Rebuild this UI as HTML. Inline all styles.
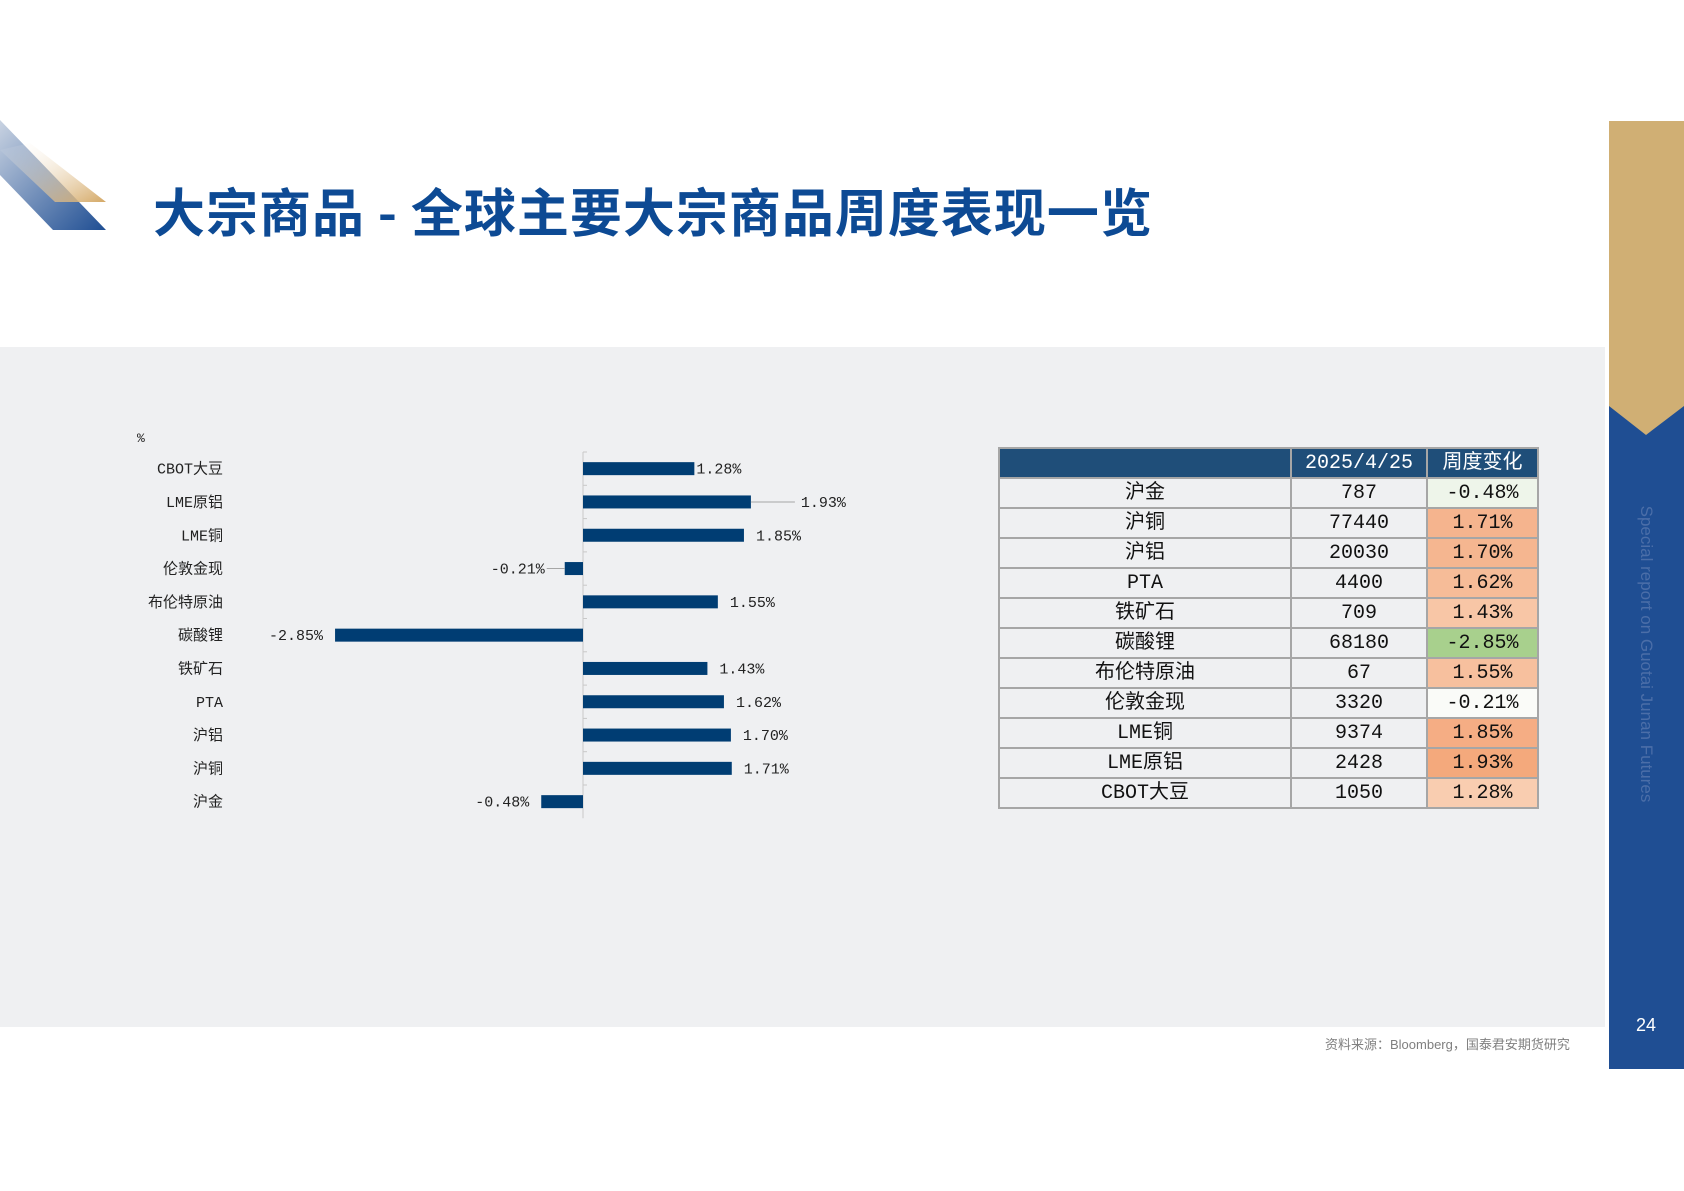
<!DOCTYPE html>
<html><head><meta charset="utf-8"><style>
body{margin:0;width:1684px;height:1191px;position:relative;background:#fff;overflow:hidden;font-family:"Liberation Sans","Noto Sans CJK SC",sans-serif}
.abs{position:absolute}
table{border-collapse:collapse;position:absolute;left:998px;top:447px;font-family:"Liberation Mono","Noto Sans CJK SC",sans-serif;font-size:20px;table-layout:fixed}
tr{height:30px}
td,th{border:2px solid #a6a6a6;height:26px;max-height:26px;padding:0;padding-top:2px;box-sizing:border-box;text-align:center;line-height:26px;overflow:hidden;white-space:nowrap}
td{color:#111}
th{background:#1f4e79;color:#fff;font-weight:normal}
</style></head><body>
<svg class="abs" style="left:0;top:110px" width="120" height="130">
<defs><linearGradient id="gb" x1="0" y1="0" x2="1" y2="1"><stop offset="0" stop-color="#c9d3e2"/><stop offset="1" stop-color="#1f4e93"/></linearGradient>
<linearGradient id="gg" x1="0" y1="0" x2="1" y2="1"><stop offset="0" stop-color="#fff" stop-opacity="0"/><stop offset="1" stop-color="#d4a865"/></linearGradient></defs>
<polygon points="0,10 106,120 53,120 0,65" fill="url(#gb)"/>
<polygon points="30,33 106,92 55,92 0,40" fill="url(#gg)"/>
</svg>
<div class="abs" style="left:153px;top:180px;font-size:52px;letter-spacing:1px;font-weight:bold;color:#0d4a94;font-family:'Noto Sans CJK SC',sans-serif;line-height:60px">大宗商品 - 全球主要大宗商品周度表现一览</div>
<div class="abs" style="left:0;top:347px;width:1605px;height:680px;background:#eff0f2"></div>
<div class="abs" style="left:1609px;top:121px;width:75px;height:948px;background:#1f4e93"></div>
<svg class="abs" style="left:1609px;top:121px" width="75" height="320"><polygon points="0,0 75,0 75,285 37,314 0,285" fill="#d0af74"/></svg>
<div class="abs" style="left:1646px;top:654px;transform:translate(-50%,-50%) rotate(90deg);white-space:nowrap;font-size:17px;color:#4b6ea8">Special report on Guotai Junan Futures</div>
<div class="abs" style="left:1636px;top:1015px;font-size:18px;color:#fff">24</div>
<div class="abs" style="left:1325px;top:1034px;font-size:13px;color:#7f7f7f">资料来源：Bloomberg，国泰君安期货研究</div>

<svg id="chart" class="abs" style="left:0;top:0" width="900" height="900"></svg>

<table>
<tr><th style="width:292px"></th><th style="width:136px">2025/4/25</th><th style="width:111px">周度变化</th></tr>
<tr><td>沪金</td><td>787</td><td style="background:#eef5ea">-0.48%</td></tr>
<tr><td>沪铜</td><td>77440</td><td style="background:#f5b48e">1.71%</td></tr>
<tr><td>沪铝</td><td>20030</td><td style="background:#f5b690">1.70%</td></tr>
<tr><td>PTA</td><td>4400</td><td style="background:#f6bc98">1.62%</td></tr>
<tr><td>铁矿石</td><td>709</td><td style="background:#f8c6a6">1.43%</td></tr>
<tr><td>碳酸锂</td><td>68180</td><td style="background:#a8d08d">-2.85%</td></tr>
<tr><td>布伦特原油</td><td>67</td><td style="background:#f7c09e">1.55%</td></tr>
<tr><td>伦敦金现</td><td>3320</td><td style="background:#fafbf8">-0.21%</td></tr>
<tr><td>LME铜</td><td>9374</td><td style="background:#f5ad84">1.85%</td></tr>
<tr><td>LME原铝</td><td>2428</td><td style="background:#f4a97c">1.93%</td></tr>
<tr><td>CBOT大豆</td><td>1050</td><td style="background:#f9cdb0">1.28%</td></tr>
</table>
<script>
const categories=["CBOT大豆","LME原铝","LME铜","伦敦金现","布伦特原油","碳酸锂","铁矿石","PTA","沪铝","沪铜","沪金"];
const values=[1.28,1.93,1.85,-0.21,1.55,-2.85,1.43,1.62,1.70,1.71,-0.48];
const valueLabels=["1.28%","1.93%","1.85%","-0.21%","1.55%","-2.85%","1.43%","1.62%","1.70%","1.71%","-0.48%"];
const svg=document.getElementById('chart');
const NS='http://www.w3.org/2000/svg';
const x0=583,pxPer=87,rowTop=452,rowH=33.3,barH=13;
const xs=v=>x0+v*pxPer;
const yc=i=>rowTop+rowH*(i+0.5);
function mk(t,a){const e=document.createElementNS(NS,t);for(const k in a)e.setAttribute(k,a[k]);svg.appendChild(e);return e;}
const unit=mk('text',{x:137,y:442,'font-size':13,fill:'#222','font-family':'Liberation Mono, Noto Sans CJK SC, sans-serif'});unit.textContent='%';


const ax=mk('line',{x1:x0,x2:x0,y1:rowTop,y2:rowTop+rowH*categories.length,stroke:'#c8c8c8','stroke-width':1});


categories.forEach((c,i)=>{
  mk('line',{x1:x0,x2:x0+4,y1:rowTop+rowH*i,y2:rowTop+rowH*i,stroke:'#c8c8c8'});
  const t=mk('text',{x:223,y:yc(i)+5,'text-anchor':'end','font-size':15,fill:'#222','font-family':'Liberation Mono, Noto Sans CJK SC, sans-serif'});
  t.textContent=c;
  
  
  const v=values[i];
  const r=mk('rect',{x:Math.min(xs(0),xs(v)),y:yc(i)-barH/2,width:Math.abs(xs(v)-xs(0)),height:barH,fill:'#003d73'});
  
  
  let gap=12;
  if(i===0)gap=2;
  const lead=(i===1||i===3);
  if(lead)gap=50;
  if(i===3)gap=20;
  const lx=v>=0?xs(v)+gap:xs(v)-gap;
  if(lead){mk('line',{x1:xs(v),x2:v>=0?lx-6:lx+2,y1:yc(i),y2:yc(i),stroke:'#a6a6a6'});}
  const vt=mk('text',{x:lx,y:yc(i)+5,'text-anchor':v>=0?'start':'end','font-size':15,fill:'#222','font-family':'Liberation Mono, Noto Sans CJK SC, sans-serif'});
  vt.textContent=valueLabels[i];
  
  
});
</script>
</body></html>
